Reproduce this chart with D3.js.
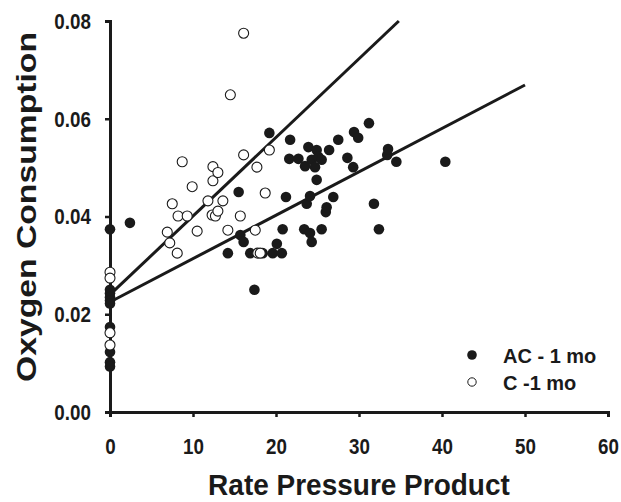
<!DOCTYPE html>
<html>
<head>
<meta charset="utf-8">
<script src="https://cdn.jsdelivr.net/npm/d3@7"></script>
<style>
    body { margin: 0; background: #fff; }
    text { font-family: "Liberation Sans", Arial, sans-serif; font-weight: bold; fill: #1a1a1a; }
    .tall { transform-box: fill-box; transform-origin: center; transform: scale(0.94, 1.14); }
    .title { transform-box: fill-box; transform-origin: center; transform: scale(1, 1.08); }
</style>
</head>
<body>
<div id="chart"></div>
<script>
// filled circles, "AC - 1 mo"
const acPoints = [
    [0, 0.0374], [0, 0.0250], [0, 0.0243], [0, 0.0235], [0, 0.0228], [0, 0.0222],
    [0, 0.0174], [0, 0.0123], [0, 0.0102], [0, 0.0093],
    [2.4, 0.0387], [14.2, 0.0325], [15.5, 0.0450], [15.7, 0.0362], [16.1, 0.0348],
    [16.9, 0.0325], [17.4, 0.0250], [18.4, 0.0325], [19.2, 0.0571], [19.6, 0.0325],
    [20.1, 0.0344], [20.7, 0.0325], [20.8, 0.0374], [21.2, 0.0440], [21.6, 0.0518],
    [21.7, 0.0557], [22.7, 0.0518], [23.4, 0.0374], [23.5, 0.0503], [23.7, 0.0426],
    [23.9, 0.0542], [24.1, 0.0442], [24.1, 0.0366], [24.3, 0.0516], [24.3, 0.0348],
    [24.7, 0.0501], [24.9, 0.0536], [24.9, 0.0475], [25.1, 0.0522], [25.5, 0.0516],
    [25.5, 0.0374], [26.0, 0.0409], [26.1, 0.0419], [26.4, 0.0536], [26.9, 0.0440],
    [27.5, 0.0557], [28.6, 0.0520], [29.3, 0.0501], [29.4, 0.0573], [29.9, 0.0561],
    [31.2, 0.0591], [31.8, 0.0426], [32.4, 0.0374], [33.4, 0.0526], [33.5, 0.0538],
    [34.5, 0.0512], [40.4, 0.0512],
];

// open circles, "C -1 mo"
const cPoints = [
    [0, 0.0286], [0, 0.0274], [0, 0.0162], [0, 0.0137],
    [6.9, 0.0368], [7.2, 0.0346], [7.5, 0.0426], [8.1, 0.0325], [8.2, 0.0401],
    [8.7, 0.0512], [9.3, 0.0401], [9.9, 0.0461], [10.5, 0.0370], [11.8, 0.0432],
    [12.3, 0.0403], [12.4, 0.0502], [12.4, 0.0473], [12.7, 0.0401], [13.0, 0.0490],
    [13.0, 0.0411], [13.6, 0.0432], [14.2, 0.0372], [14.5, 0.0649], [15.7, 0.0401],
    [16.1, 0.0775], [16.1, 0.0526], [17.5, 0.0372], [17.7, 0.0501], [17.8, 0.0325],
    [18.1, 0.0325], [18.7, 0.0448], [19.2, 0.0536],
];

// regression lines, end points
const acFit = [[0, 0.0225], [50, 0.0669]];
const cFit = [[0, 0.0240], [34.8, 0.080]];

const xTicks = [0, 10, 20, 30, 40, 50, 60];
const yTicks = [0, 0.02, 0.04, 0.06, 0.08];
const legendItems = [
    { label: 'AC - 1 mo', filled: true },
    { label: 'C -1 mo', filled: false },
];

const width = 621;
const height = 502;
const margin = { top: 21, right: 13, bottom: 90, left: 110 };

let svg = d3.select('#chart').append('svg')
    .attr('width', width)
    .attr('height', height);

let x = d3.scaleLinear().domain([0, 60]).range([margin.left, width - margin.right]);
let y = d3.scaleLinear().domain([0, 0.08]).range([height - margin.bottom, margin.top]);

function styleAxis(g) {
    g.select('.domain').attr('stroke', '#1a1a1a').attr('stroke-width', 3);
    g.selectAll('.tick line').attr('stroke', '#1a1a1a').attr('stroke-width', 2.5);
    g.selectAll('.tick text').classed('tall', true).style('font-size', '20px');
}

let xAxis = svg.append('g')
    .attr('transform', `translate(0,${y(0)})`)
    .call(d3.axisBottom(x).tickValues(xTicks).tickSize(5).tickSizeOuter(5).tickPadding(22));
styleAxis(xAxis);

let yAxis = svg.append('g')
    .attr('transform', `translate(${x(0)},0)`)
    .call(d3.axisLeft(y).tickValues(yTicks).tickFormat(d3.format('.2f')).tickSize(5).tickSizeOuter(5).tickPadding(13));
styleAxis(yAxis);

let line = d3.line().x(d => x(d[0])).y(d => y(d[1]));

[acFit, cFit].forEach(fit => {
    svg.append('path')
        .attr('d', line(fit))
        .attr('fill', 'none')
        .attr('stroke', '#1a1a1a')
        .attr('stroke-width', 3);
});

svg.append('g').selectAll('circle')
    .data(acPoints)
    .join('circle')
    .attr('cx', d => x(d[0]))
    .attr('cy', d => y(d[1]))
    .attr('r', 5.3)
    .attr('fill', '#1a1a1a');

svg.append('g').selectAll('circle')
    .data(cPoints)
    .join('circle')
    .attr('cx', d => x(d[0]))
    .attr('cy', d => y(d[1]))
    .attr('r', 5)
    .attr('fill', '#fff')
    .attr('stroke', '#1a1a1a')
    .attr('stroke-width', 1.1);

let legend = svg.append('g').attr('transform', 'translate(472,355)');
legendItems.forEach((item, i) => {
    let row = legend.append('g').attr('transform', `translate(0,${i * 27})`);
    row.append('circle')
        .attr('r', item.filled ? 4.8 : 4.2)
        .attr('fill', item.filled ? '#1a1a1a' : '#fff')
        .attr('stroke', '#1a1a1a')
        .attr('stroke-width', item.filled ? 0 : 1);
    row.append('text')
        .attr('x', 31)
        .attr('y', 7.5)
        .style('font-size', '20px')
        .text(item.label);
});

svg.append('text')
    .classed('title', true)
    .attr('x', 359)
    .attr('y', 494)
    .attr('text-anchor', 'middle')
    .style('font-size', '28px')
    .text('Rate Pressure Product');

svg.append('text')
    .attr('transform', 'translate(36,207) rotate(-90)')
    .attr('text-anchor', 'middle')
    .attr('textLength', 350)
    .attr('lengthAdjust', 'spacingAndGlyphs')
    .style('font-size', '27px')
    .text('Oxygen Consumption');
</script>
</body>
</html>
